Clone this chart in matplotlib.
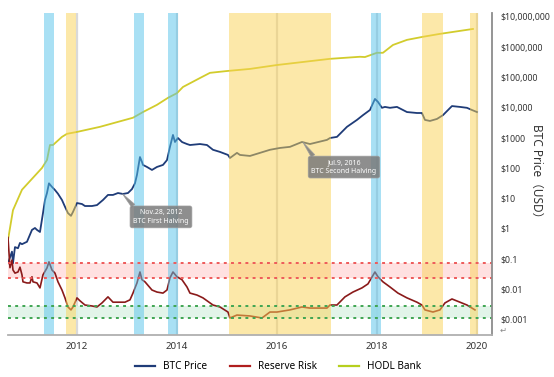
import numpy as np
import matplotlib
matplotlib.use("Agg")
import matplotlib.pyplot as plt
from matplotlib.lines import Line2D
from matplotlib.ticker import FixedLocator, NullLocator

plt.rcParams['font.family'] = ['Noto Sans', 'Noto Sans CJK SC', 'DejaVu Sans']

# ---------------- data ----------------
btc_years = [2010.62, 2010.70, 2010.72, 2010.76, 2010.82, 2010.86, 2010.90, 2011.00, 2011.10, 2011.16,
             2011.20, 2011.26, 2011.32, 2011.36, 2011.40, 2011.44, 2011.50, 2011.56, 2011.62, 2011.70,
             2011.76, 2011.82, 2011.88, 2011.92, 2012.00, 2012.10, 2012.16, 2012.30, 2012.40, 2012.52,
             2012.62, 2012.72, 2012.82, 2012.92, 2013.02, 2013.10, 2013.16, 2013.20, 2013.26, 2013.30,
             2013.32, 2013.40, 2013.50, 2013.60, 2013.72, 2013.80, 2013.86, 2013.92, 2013.96, 2014.02,
             2014.10, 2014.12, 2014.20, 2014.26, 2014.46, 2014.60, 2014.72, 2014.86, 2015.02, 2015.06,
             2015.20, 2015.26, 2015.46, 2015.66, 2015.86, 2016.06, 2016.26, 2016.50, 2016.66, 2017.00,
             2017.06, 2017.20, 2017.40, 2017.60, 2017.72, 2017.86, 2017.96, 2018.02, 2018.10, 2018.16,
             2018.26, 2018.40, 2018.60, 2018.80, 2018.90, 2018.96, 2019.06, 2019.20, 2019.32, 2019.50,
             2019.66, 2019.80, 2019.90, 2020.00]
btc_price = [0.07, 0.17, 0.07, 0.24, 0.22, 0.33, 0.30, 0.36, 0.89, 1.03,
             0.89, 0.76, 3.2, 8.7, 14.8, 31.0, 23.6, 18.6, 14.0, 8.7,
             5.2, 3.2, 2.6, 3.5, 6.9, 6.4, 5.5, 5.5, 5.9, 8.7,
             12.8, 12.8, 14.8, 13.8, 14.8, 20.0, 31.0, 59.0, 230.0, 158.0,
             126.0, 108.0, 86.0, 108.0, 126.0, 182.0, 500.0, 1240.0, 725.0, 980.0,
             725.0, 700.0, 620.0, 575.0, 620.0, 575.0, 400.0, 340.0, 270.0, 214.0,
             316.0, 270.0, 250.0, 316.0, 400.0, 460.0, 500.0, 725.0, 620.0, 850.0,
             980.0, 1070.0, 2300.0, 3900.0, 5600.0, 8300.0, 19300.0, 15400.0, 9800.0, 10500.0,
             9800.0, 10500.0, 7100.0, 6600.0, 6600.0, 3900.0, 3600.0, 4200.0, 5600.0, 11200.0,
             10500.0, 9800.0, 8300.0, 7100.0]

rr_years = [2010.62, 2010.66, 2010.70, 2010.72, 2010.76, 2010.82, 2010.86, 2010.90, 2010.92, 2011.00,
            2011.06, 2011.10, 2011.12, 2011.20, 2011.26, 2011.32, 2011.40, 2011.44, 2011.50, 2011.56,
            2011.62, 2011.70, 2011.76, 2011.82, 2011.88, 2011.92, 2012.00, 2012.06, 2012.16, 2012.30,
            2012.40, 2012.50, 2012.62, 2012.72, 2012.82, 2012.96, 2013.06, 2013.12, 2013.20, 2013.26,
            2013.30, 2013.36, 2013.50, 2013.60, 2013.72, 2013.80, 2013.86, 2013.92, 2014.00, 2014.10,
            2014.20, 2014.26, 2014.40, 2014.52, 2014.72, 2014.86, 2015.02, 2015.06, 2015.20, 2015.46,
            2015.70, 2015.86, 2016.00, 2016.26, 2016.50, 2016.66, 2017.00, 2017.06, 2017.20, 2017.36,
            2017.52, 2017.70, 2017.82, 2017.96, 2018.02, 2018.12, 2018.26, 2018.42, 2018.60, 2018.80,
            2018.90, 2018.96, 2019.12, 2019.26, 2019.36, 2019.50, 2019.66, 2019.80, 2019.96]
rr_values = [0.50, 0.05, 0.089, 0.042, 0.033, 0.036, 0.052, 0.029, 0.017, 0.0156,
             0.0156, 0.025, 0.017, 0.0156, 0.0107, 0.029, 0.049, 0.078, 0.042, 0.033,
             0.017, 0.0091, 0.0050, 0.0025, 0.0020, 0.0025, 0.0050, 0.0040, 0.0029, 0.0027,
             0.0025, 0.0034, 0.0054, 0.0036, 0.0036, 0.0036, 0.0043, 0.0072, 0.0156, 0.036,
             0.020, 0.017, 0.0091, 0.0078, 0.0072, 0.0091, 0.023, 0.036, 0.025, 0.020,
             0.0115, 0.0072, 0.0062, 0.0050, 0.0029, 0.0025, 0.0017, 0.00108, 0.00135, 0.00126,
             0.00108, 0.0017, 0.0017, 0.0020, 0.0025, 0.0023, 0.0023, 0.0029, 0.0029, 0.0054,
             0.0078, 0.0107, 0.0145, 0.036, 0.025, 0.017, 0.0115, 0.0072, 0.0050, 0.0036,
             0.0029, 0.0020, 0.0017, 0.0020, 0.0034, 0.0046, 0.0036, 0.0029, 0.0020]

hodl_years = [2010.62, 2010.72, 2010.90, 2011.30, 2011.40, 2011.46, 2011.52, 2011.70, 2011.80, 2012.00,
              2012.46, 2013.12, 2013.32, 2013.60, 2013.82, 2014.00, 2014.12, 2014.46, 2014.66, 2015.00,
              2015.46, 2016.00, 2017.06, 2017.66, 2017.76, 2018.00, 2018.12, 2018.32, 2018.60, 2018.92,
              2019.26, 2019.92]
hodl_values = [0.41, 4.0, 19.0, 100.0, 183.0, 575.0, 575.0, 1070.0, 1350.0, 1560.0,
               2300.0, 4600.0, 7100.0, 12300.0, 21000.0, 30000.0, 48000.0, 95000.0, 141000.0, 162000.0,
               190000.0, 256000.0, 410000.0, 480000.0, 470000.0, 650000.0, 650000.0, 1180000.0, 1740000.0, 2200000.0,
               2750000.0, 4000000.0]

blue_bands = [(2011.34, 2011.54), (2013.14, 2013.34), (2013.82, 2014.02), (2017.88, 2018.08)]
yellow_bands = [(2011.78, 2011.98), (2015.04, 2017.08), (2018.90, 2019.32), (2019.86, 2020.02)]

sell_zone = (0.023, 0.074)
buy_zone = (0.00107, 0.0027)

x_ticks = [2012, 2014, 2016, 2018, 2020]
y_ticks = [0.001, 0.01, 0.1, 1, 10, 100, 1000, 1e4, 1e5, 1e6, 1e7]
y_labels = ["$0.001", "$0.01", "$0.1", "$1", "$10", "$100", "$1000",
            "$10,000", "$100,000", "$1000,000", "$10,000,000"]

halvings = [(2012.91, "Nov.28, 2012\nBTC First Halving"),
            (2016.52, "Jul.9, 2016\nBTC Second Halving")]

# ---------------- figure ----------------
fig = plt.figure(figsize=(5.54, 3.77), dpi=100)
ax = fig.add_axes([0.0144, 0.1114, 0.8736, 0.8541])
ax.set_yscale('log')
ax.set_xlim(2010.62, 2020.30)
ax.set_ylim(10 ** -3.53, 10 ** 7.13)

# light vertical grid lines
for xt in x_ticks:
    ax.axvline(xt, color='#d9d9d9', lw=1.6, zorder=0.5)

# horizontal zones
ax.axhspan(*sell_zone, color='#ffdcdc', alpha=0.85, lw=0, zorder=1)
ax.axhspan(*buy_zone, color='#ddf3e6', alpha=0.85, lw=0, zorder=1)

# series
ax.plot(hodl_years, hodl_values, color='#d2cc2c', lw=1.3, zorder=2)
ax.plot(btc_years, btc_price, color='#1f3c78', lw=1.3, zorder=2)
ax.plot(rr_years, rr_values, color='#8a1a1a', lw=1.2, zorder=2)

# vertical bands (drawn over the lines, semi-transparent)
for a, b in blue_bands:
    ax.axvspan(a, b, color='#55c3eb', alpha=0.5, lw=0, zorder=3)
for a, b in yellow_bands:
    ax.axvspan(a, b, color='#fbd355', alpha=0.5, lw=0, zorder=3)

# dotted zone borders
for v in sell_zone:
    ax.axhline(v, color='#ee5a5a', lw=1.4, ls=(0, (1.5, 2.2)), zorder=4)
for v in buy_zone:
    ax.axhline(v, color='#3fa552', lw=1.4, ls=(0, (1.5, 2.2)), zorder=4)

# annotations
text_pos = [(2013.68, 2.4), (2017.34, 107.0)]
for (hx, txt), (tx, ty) in zip(halvings, text_pos):
    hy = 10 ** np.interp(hx, btc_years, np.log10(btc_price))
    ax.annotate(txt, xy=(hx, hy), xytext=(tx, ty), ha='center', va='center',
                fontsize=5, color='white', fontweight='bold', linespacing=1.3,
                bbox=dict(boxstyle='round,pad=0.45,rounding_size=0.3', fc='#7a7a7a',
                          ec='#999999', alpha=0.85, lw=0.6),
                arrowprops=dict(arrowstyle='wedge,tail_width=0.6', fc='#7a7a7a',
                                ec='#999999', alpha=0.85, lw=0.6,
                                relpos=(0.08, 0.9), shrinkA=0, shrinkB=0),
                zorder=6)

# axes styling
for s in ['top', 'left']:
    ax.spines[s].set_visible(False)
ax.spines['bottom'].set_color('#b0b0b0')
ax.spines['bottom'].set_linewidth(1.3)
ax.spines['right'].set_color('#8c8c8c')
ax.spines['right'].set_linewidth(1.3)
ax.spines['bottom'].set_zorder(5)
ax.spines['right'].set_zorder(5)

ax.xaxis.set_major_locator(FixedLocator(x_ticks))
ax.set_xticklabels([str(t) for t in x_ticks])
ax.yaxis.tick_right()
ax.yaxis.set_major_locator(FixedLocator(y_ticks))
ax.yaxis.set_minor_locator(NullLocator())
ax.set_yticklabels(y_labels)
ax.tick_params(axis='both', length=0, colors='#333333')
ax.tick_params(axis='x', pad=5, labelsize=7.0)
ax.tick_params(axis='y', pad=6, labelsize=6.3)
ax.yaxis.set_label_position('right')
ax.set_ylabel('BTC Price（USD）', rotation=270, fontsize=8.5, color='#333333',
              va='center', ha='center')
ax.yaxis.set_label_coords(1.093, 0.5)

fig.text(0.902, 0.118, '↵', fontsize=6, color='#888888', family=['DejaVu Sans'])

handles = [Line2D([], [], color='#1f3c78', lw=1.6),
           Line2D([], [], color='#b01e1e', lw=1.6),
           Line2D([], [], color='#b6cf1e', lw=1.6)]
fig.legend(handles, ['BTC Price', 'Reserve Risk', 'HODL Bank'], loc='center',
           bbox_to_anchor=(0.502, 0.027), ncol=3, frameon=False, fontsize=7.2,
           handlelength=2.0, columnspacing=2.2, handletextpad=0.8)

fig.savefig('out.png', dpi=100)
